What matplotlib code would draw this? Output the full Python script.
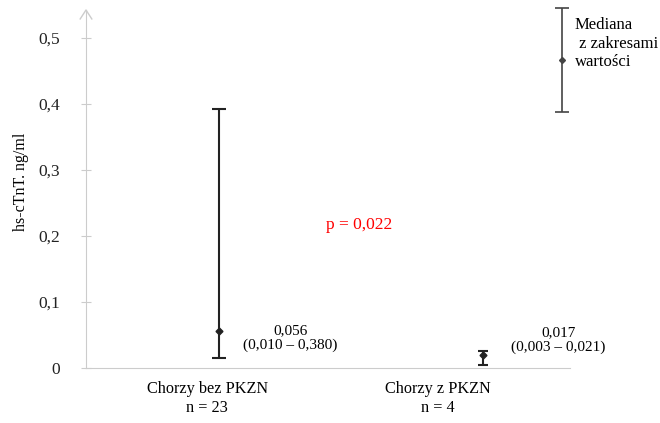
import matplotlib.pyplot as plt

plt.rcParams['font.family'] = ['Liberation Serif', 'DejaVu Serif']

# values
groups = ["Chorzy bez PKZN\nn = 23", "Chorzy z PKZN\nn = 4"]
medians = [0.056, 0.020]
lows = [0.015, 0.005]
highs = [0.392, 0.026]
labels = ["0,056\n(0,010 – 0,380)", "0,017\n(0,003 – 0,021)"]
yticks = [0, 0.1, 0.2, 0.3, 0.4, 0.5]
ytick_labels = ["0", "0,1", "0,2", "0,3", "0,4", "0,5"]
legend_bar = [0.388, 0.467, 0.545]  # low, median, high of the key

fig = plt.figure(figsize=(6.6, 4.23), dpi=100)
ax = fig.add_axes([86 / 660, 55 / 423, 484 / 660, 358 / 423])
ax.set_xlim(0.496, 2.33)
ax.set_ylim(0, 0.542)

xs = [1, 2]
caps = [5, 3.5]
for x, m, lo, hi, cs in zip(xs, medians, lows, highs, caps):
    ax.errorbar([x], [m], yerr=[[m - lo], [hi - m]], fmt='D', color='#222222',
                markersize=3.5, elinewidth=1.5, capsize=cs, capthick=1.5, clip_on=False)

# annotations next to the bars
ax.text(1.27, 0.045, labels[0], ha='center', va='center', fontsize=11, linespacing=1.15)
ax.text(2.285, 0.042, labels[1], ha='center', va='center', fontsize=11, linespacing=1.15)
ax.text(1.53, 0.217, "p = 0,022", color='red', ha='center', va='center', fontsize=12.5)

# key in the upper right
lo, m, hi = legend_bar
ax.errorbar([2.30], [m], yerr=[[m - lo], [hi - m]], fmt='D', color='#444444',
            markersize=3, elinewidth=1.2, capsize=5, capthick=1.2, clip_on=False)
ax.text(2.348, 0.531, "Mediana\n z zakresami\nwartości", ha='left', va='top',
        fontsize=12, linespacing=1.2, clip_on=False)

# axes styling
for s in ['top', 'right']:
    ax.spines[s].set_visible(False)
ax.spines['left'].set_color('#cccccc')
ax.spines['bottom'].set_color('#cccccc')
ax.set_yticks(yticks)
ax.set_yticklabels(ytick_labels, fontsize=12.5, color='#222222')
ax.tick_params(axis='y', direction='inout', length=7, color='#cccccc', pad=15)
ax.set_xticks([0.955, 1.83])
ax.set_xticklabels(groups, fontsize=11.7, linespacing=1.3)
ax.tick_params(axis='x', length=0, pad=9)
ax.set_ylabel("hs-cTnT. ng/ml", fontsize=11.5)
ax.yaxis.set_label_coords(-57 / 484, (368 - 182) / 358)

# open arrow head on the y axis
ax.plot([-0.012, 0, 0.012], [0.975, 1.0, 0.975], transform=ax.transAxes,
        color='#cccccc', lw=1, clip_on=False)

fig.savefig("out.png", dpi=100)
